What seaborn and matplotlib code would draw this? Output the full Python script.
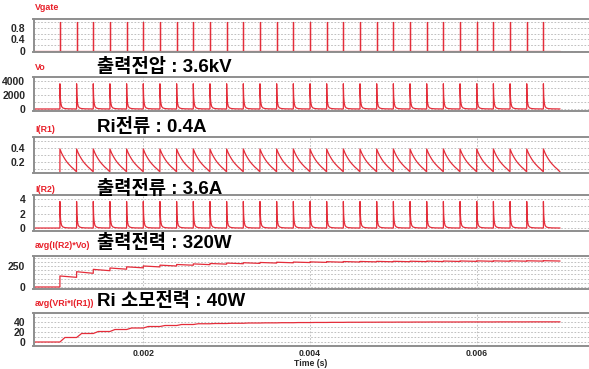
import numpy as np
import pandas as pd
import matplotlib
matplotlib.use("Agg")
import matplotlib.pyplot as plt
import seaborn as sns
from matplotlib.ticker import MultipleLocator, FixedLocator

# ---- simulation traces (values in SI units) ----
pulse_times = [0.0010, 0.0012, 0.0014, 0.0016, 0.0018, 0.0020, 0.0022, 0.0024,
               0.0026, 0.0028, 0.0030, 0.0032, 0.0034, 0.0036, 0.0038, 0.0040,
               0.0042, 0.0044, 0.0046, 0.0048, 0.0050, 0.0052, 0.0054, 0.0056,
               0.0058, 0.0060, 0.0062, 0.0064, 0.0066, 0.0068]
trace_start = 0.00068
trace_end = 0.0070

gate_level = 1.0
gate_width = 1.0e-6

vo_peak = 3600.0
ir2_peak = 3.65
spike_offsets = [0.0, 0.000004, 0.00001, 0.00002, 0.000035, 0.00006, 0.0001, 0.00019]
spike_fraction = [1.0, 0.5, 0.25, 0.10, 0.04, 0.015, 0.005, 0.0]

ir1_offsets = [0.0, 0.00002, 0.00004, 0.00006, 0.00008, 0.0001, 0.00012,
               0.00014, 0.00016, 0.00018, 0.000199]
ir1_values = [0.39, 0.33, 0.285, 0.245, 0.21, 0.18, 0.155, 0.13, 0.11, 0.085, 0.065]

avg_po_after = [131, 182, 210, 226, 240, 250, 260, 268, 275, 280, 285, 289, 292,
                295, 297, 299, 301, 303, 304, 305, 306, 307, 308, 309, 310, 311,
                311, 312, 312, 313]
avg_po_before = [115, 163, 194, 212, 228, 239, 250, 259, 266, 272, 277, 281, 285,
                 288, 291, 293, 295, 297, 299, 300, 301, 302, 303, 304, 305, 306,
                 307, 307, 308, 309]

avg_ri_level = [9, 17, 21, 25, 28, 31, 33, 35, 36.5, 37, 37.5, 38, 38.3, 38.6,
                38.9, 39.1, 39.3, 39.5, 39.6, 39.7, 39.8, 39.9, 40, 40, 40.1,
                40.1, 40.2, 40.2, 40.3, 40.3]
ri_rise = 0.00006

trace_names = ["Vgate", "Vo", "I(R1)", "I(R2)", "avg(I(R2)*Vo)", "avg(VRi*I(R1))"]
headlines = [None, "출력전압 : 3.6kV", "Ri전류 : 0.4A", "출력전류 : 3.6A",
             "출력전력 : 320W", "Ri 소모전력 : 40W"]
x_ticks = [0.002, 0.004, 0.006]
x_tick_labels = ["0.002", "0.004", "0.006"]


def frame(ts, vs):
    return pd.DataFrame({"time": ts, "value": vs})


def gate_trace():
    ts, vs = [trace_start], [0.0]
    for tp in pulse_times:
        ts += [tp, tp, tp + gate_width, tp + gate_width]
        vs += [0.0, gate_level, gate_level, 0.0]
    ts.append(trace_end); vs.append(0.0)
    return frame(ts, vs)


def spike_trace(peak):
    ts, vs = [trace_start], [0.0]
    for tp in pulse_times:
        ts.append(tp); vs.append(0.0)
        for off, fr in zip(spike_offsets, spike_fraction):
            ts.append(tp + off); vs.append(peak * fr)
    ts.append(trace_end); vs.append(0.0)
    return frame(ts, vs)


def ir1_trace():
    ts, vs = [trace_start, pulse_times[0]], [0.0, 0.0]
    for tp in pulse_times:
        for off, v in zip(ir1_offsets, ir1_values):
            ts.append(tp + off); vs.append(v)
    return frame(ts, vs)


def avg_po_trace():
    ts, vs = [trace_start, pulse_times[0]], [0.0, 0.0]
    for i, tp in enumerate(pulse_times):
        end = pulse_times[i + 1] if i + 1 < len(pulse_times) else trace_end
        ts += [tp, end]
        vs += [avg_po_after[i], avg_po_before[i]]
        ts.append(end); vs.append(avg_po_before[i])
    return frame(ts, vs)


def avg_ri_trace():
    ts, vs = [trace_start, pulse_times[0]], [0.0, 0.0]
    for i, tp in enumerate(pulse_times):
        end = pulse_times[i + 1] if i + 1 < len(pulse_times) else trace_end
        ts += [tp + ri_rise, end]
        vs += [avg_ri_level[i], avg_ri_level[i]]
    return frame(ts, vs)


traces = [gate_trace(), spike_trace(vo_peak), ir1_trace(),
          spike_trace(ir2_peak), avg_po_trace(), avg_ri_trace()]

# axis layout: (ylim, yticks, ytick labels, grid step)
y_setup = [
    ((-0.035, 1.11), [0, 0.4, 0.8], ["0", "0.4", "0.8"], 0.2),
    ((-290, 4570), [0, 2000, 4000], ["0", "2000", "4000"], 1000),
    ((0.047, 0.56), [0.2, 0.4], ["0.2", "0.4"], 0.1),
    ((-0.41, 4.55), [0, 2, 4], ["0", "2", "4"], 1),
    ((-24, 369), [0, 250], ["0", "250"], 50),
    ((-8, 58), [0, 20, 40], ["0", "20", "40"], 10),
]
# panel rows in pixels (top, bottom)
rows_px = [(19, 52), (77, 111), (137, 173), (195, 231), (256, 289), (313, 346)]

sns.set_style("white")
plt.rcParams["font.family"] = ["Liberation Sans", "DejaVu Sans"]

W, H = 589, 369
fig = plt.figure(figsize=(W / 100, H / 100), dpi=100)
left_px, right_px = 33.5, 589
line_color = "#e42d3a"
frame_color = "#8e8e8e"
grid_color = "#b5b5b5"

axes = []
for k, (df, (ylim, yt, ytl, step), (top, bot)) in enumerate(zip(traces, y_setup, rows_px)):
    ax = fig.add_axes([left_px / W, 1 - bot / H, (right_px - left_px) / W, (bot - top) / H])
    sns.lineplot(data=df, x="time", y="value", ax=ax, sort=False, estimator=None,
                 color=line_color, lw=0.9)
    ax.set_xlim(0.000683, 0.007347)
    ax.set_ylim(*ylim)
    ax.yaxis.set_major_locator(FixedLocator(yt))
    ax.set_yticklabels(ytl)
    ax.yaxis.set_minor_locator(MultipleLocator(step))
    ax.xaxis.set_major_locator(FixedLocator(x_ticks))
    ax.grid(which="both", axis="y", ls=(0, (2, 2)), color=grid_color, lw=0.6)
    ax.grid(which="major", axis="x", ls=(0, (2, 2)), color=grid_color, lw=0.6)
    ax.set_axisbelow(True)
    ax.tick_params(axis="both", which="both", length=0, labelsize=7.5, pad=6)
    for lab in ax.get_yticklabels():
        lab.set_fontweight("bold")
    for name, sp in ax.spines.items():
        sp.set_color(frame_color)
        sp.set_linewidth(1.4)
    ax.spines["right"].set_visible(False)
    ax.set_xlabel("")
    ax.set_ylabel("")
    if k < 5:
        ax.set_xticklabels([])
    else:
        ax.set_xticklabels(x_tick_labels, fontsize=6.3, fontweight="bold")
        ax.tick_params(axis="x", pad=2.5)
    axes.append(ax)

# trace names above each panel
name_y = [8, 68, 129, 189, 246, 303]
for name, y in zip(trace_names, name_y):
    fig.text(35 / W, 1 - y / H, name, color="#e8202a", fontsize=6.4,
             fontweight="bold", va="center", ha="left")

# Korean headlines
head_y = [None, 67, 127, 189, 243, 301]
for text, y in zip(headlines, head_y):
    if text is None:
        continue
    fig.text(97 / W, 1 - y / H, text, fontsize=13.5, fontweight="bold",
             family=["Liberation Sans", "Noto Sans CJK KR"], va="center", ha="left",
             color="black")

fig.text(311 / W, 1 - 363.5 / H, "Time (s)", fontsize=6.2, fontweight="bold",
         ha="center", va="center")

fig.savefig("out.png", dpi=100)
